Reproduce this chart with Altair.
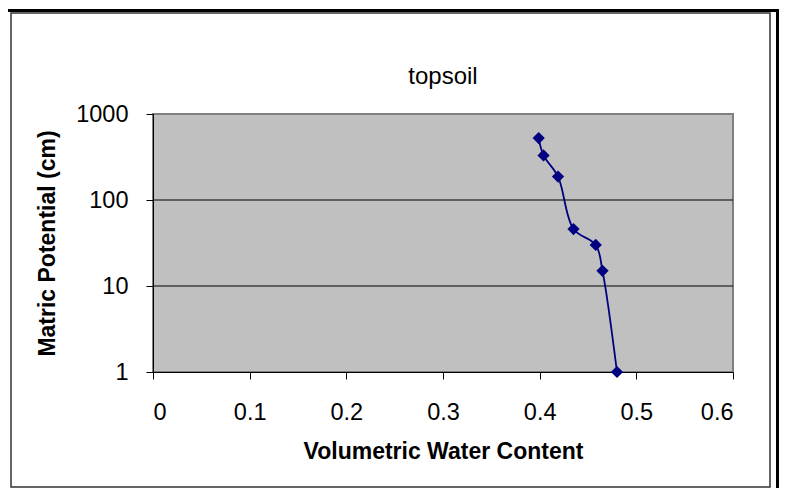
import altair as alt
import pandas as pd

# ---- data ----
theta = [0.399, 0.404, 0.419, 0.435, 0.458, 0.465, 0.480]
matric = [525, 330, 187, 46, 30, 15, 1]
point_order = [0, 1, 2, 3, 4, 5, 6]
x_ticks = [0, 0.1, 0.2, 0.3, 0.4, 0.5, 0.6]
y_ticks = [1, 10, 100, 1000]
grid_vals = [10, 100]
chart_title = "topsoil"
x_title = "Volumetric Water Content"
y_title = "Matric Potential (cm)"

W, H = 580, 258
FONT = "Liberation Sans"

df = pd.DataFrame({"theta": theta, "h": matric, "order": point_order})
grid_df = pd.DataFrame({"h": grid_vals})
one = pd.DataFrame({"a": [0]})

x_scale = alt.Scale(domain=[0, 0.6], nice=False, zero=False)
y_scale = alt.Scale(type="log", domain=[1, 1000], nice=False)

x_axis = alt.Axis(
    values=x_ticks, format="~g", grid=False, title=x_title,
    labelFontSize=23.5, tickSize=7, labelPadding=21,
    titleFontSize=23, titleFontWeight="bold",
    titleX=W / 2, titleY=79, titleBaseline="middle", titleAlign="center",
)
y_axis = alt.Axis(
    values=y_ticks, format="d", grid=False, title=y_title,
    labelFontSize=23.5, tickSize=7, labelPadding=18,
    titleFontSize=23, titleFontWeight="bold",
    titleX=-105.5, titleY=H / 2, titleAngle=-90, titleBaseline="middle", titleAlign="center",
)

line = alt.Chart(df).mark_line(
    color="#000080", strokeWidth=1.8, interpolate="catmull-rom",
    point=alt.OverlayMarkDef(shape="diamond", size=150, color="#000080", filled=True, opacity=1),
).encode(
    x=alt.X("theta:Q", scale=x_scale, axis=x_axis),
    y=alt.Y("h:Q", scale=y_scale, axis=y_axis),
    order="order:Q",
)

grid = alt.Chart(grid_df).mark_rule(color="black", strokeWidth=1).encode(
    y=alt.Y("h:Q", scale=y_scale),
    x=alt.value(0), x2=alt.value(W),
)

title_txt = alt.Chart(one).mark_text(
    text=chart_title, font=FONT, fontSize=24, color="black", align="center", baseline="middle"
).encode(x=alt.value(W / 2), y=alt.value(-37))

inner_frame = alt.Chart(one).mark_rect(
    fill=None, fillOpacity=0, stroke="#333333", strokeWidth=1.5
).encode(x=alt.value(-142), x2=alt.value(617), y=alt.value(-101), y2=alt.value(373))

outer_top = alt.Chart(one).mark_rule(color="black", strokeWidth=3).encode(
    x=alt.value(-145), x2=alt.value(626), y=alt.value(-103.5), y2=alt.value(-103.5)
)
outer_right = alt.Chart(one).mark_rule(color="black", strokeWidth=3).encode(
    x=alt.value(624.5), x2=alt.value(624.5), y=alt.value(-105), y2=alt.value(380)
)

chart = alt.layer(grid, line, title_txt, inner_frame, outer_top, outer_right).properties(
    width=W, height=H,
    autosize=alt.AutoSizeParams(type="none"),
    padding={"left": 145, "top": 106, "right": 46, "bottom": 116},
    background="white",
).configure_view(
    fill="#C0C0C0", stroke="#808080", strokeWidth=2,
).configure_axis(
    labelFont=FONT, titleFont=FONT, labelColor="black", titleColor="black",
    domainColor="black", tickColor="black", domainWidth=1, tickWidth=1,
)

chart.save("out.html", embed_options={"renderer": "svg", "actions": False})
